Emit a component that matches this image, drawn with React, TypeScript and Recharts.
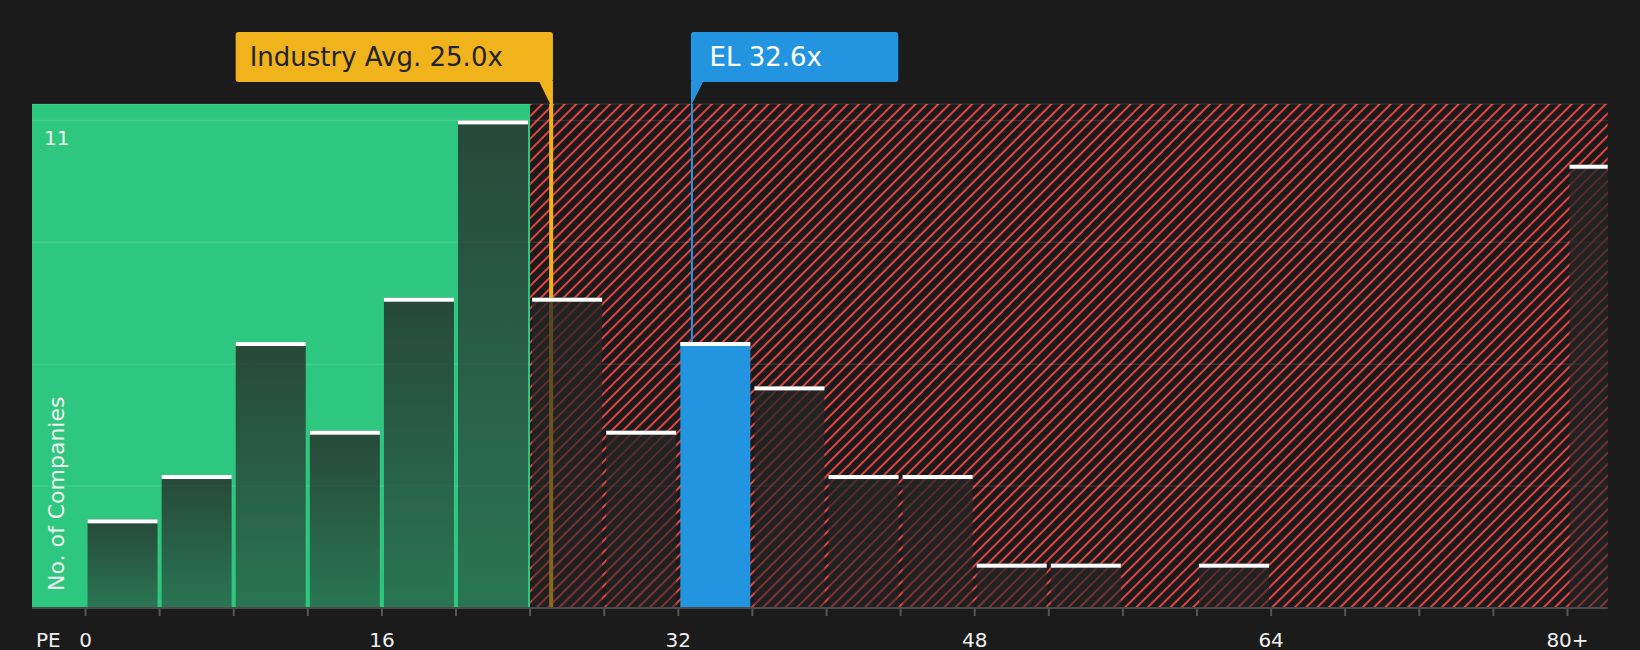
import React from "react";
import {
  ComposedChart,
  Bar,
  XAxis,
  YAxis,
  CartesianGrid,
  ReferenceArea,
  ReferenceLine,
} from "recharts";

// ---- data ----
const binStarts = [0, 4, 8, 12, 16, 20, 24, 28, 32, 36, 40, 44, 48, 52, 56, 60, 64, 68, 72, 76, 80];
const binCounts = [2, 3, 6, 4, 7, 11, 7, 4, 6, 5, 3, 3, 1, 1, 0, 1, 0, 0, 0, 0, 10];
const binWidth = 4;
const industryAvg = 25.0;
const companyPE = 32.6;
const companyName = "EL";
const fairBoundary = 24;
const xTickValues = [0, 4, 8, 12, 16, 20, 24, 28, 32, 36, 40, 44, 48, 52, 56, 60, 64, 68, 72, 76, 80];
const xLabelValues = [0, 16, 32, 48, 64, 80];
const xLabelTexts = ["0", "16", "32", "48", "64", "80+"];
const yTickValues = [2.75, 5.5, 8.25, 11];
const yLabelValues = [11];
const xDomain: [number, number] = [-2.89, 82.17];
const yDomain: [number, number] = [0, 11.37];

const tableData = binStarts.map((s, i) => ({
  x: s + binWidth / 2,
  start: s,
  count: binCounts[i],
}));

const FONT = "'DejaVu Sans', sans-serif";
const BG = "#1b1b1b";
const GREEN = "#2ec77f";
const RED = "#e34242";
const YELLOW = "#f0b31b";
const BLUE = "#2394df";
const LINE_SHIFT = 2.5;

const BarShape = (props: any) => {
  const { x, y, width, height, payload } = props;
  if (!payload || payload.count <= 0 || height <= 0) return <g />;
  const isCompany = companyPE >= payload.start && companyPE < payload.start + binWidth;
  return (
    <g>
      <rect x={x} y={y} width={width} height={height} fill={isCompany ? BLUE : "url(#barShade)"} />
      <rect x={x} y={y} width={width} height={4} fill="#ffffff" />
    </g>
  );
};

const XTick = (props: any) => {
  const { x, y, payload } = props;
  const idx = xLabelValues.indexOf(payload.value);
  return (
    <g>
      {idx >= 0 && (
        <text x={x} y={y + 31} textAnchor="middle" fill="#f0f0f0" fontSize={20} fontFamily={FONT}>
          {xLabelTexts[idx]}
        </text>
      )}
      {payload.value === 0 && (
        <text x={x - 49.5} y={y + 31} textAnchor="start" fill="#f0f0f0" fontSize={20} fontFamily={FONT}>
          PE
        </text>
      )}
    </g>
  );
};

const YTick = (props: any) => {
  const { x, y, payload } = props;
  if (yLabelValues.indexOf(payload.value) < 0) return <g />;
  return (
    <text x={x} y={y + 24.5} textAnchor="start" fill="#f0f0f0" fontSize={20} fontFamily={FONT}>
      {String(payload.value)}
    </text>
  );
};

const YLabel = (props: any) => {
  const vb = props.viewBox || {};
  const bx = vb.x + vb.width + 30.5;
  const by = vb.y + vb.height - 17;
  return (
    <text
      x={bx}
      y={by}
      transform={`rotate(-90, ${bx}, ${by})`}
      textAnchor="start"
      fill="#f0f0f0"
      fontSize={22}
      fontFamily={FONT}
    >
      No. of Companies
    </text>
  );
};

const ShiftedLine = (props: any) => {
  const { x1, y1, x2, y2, stroke, strokeWidth } = props;
  return <line x1={x1 + LINE_SHIFT} y1={y1} x2={x2 + LINE_SHIFT} y2={y2} stroke={stroke} strokeWidth={strokeWidth} />;
};

const IndustryCallout = (props: any) => {
  const vb = props.viewBox || {};
  const lx = vb.x + LINE_SHIFT;
  const top = vb.y;
  const right = lx + 1.8;
  const w = 317.3;
  const left = right - w;
  return (
    <g>
      <rect x={left} y={top - 72} width={w} height={50} rx={3} fill={YELLOW} />
      <polygon points={`${right - 14},${top - 23} ${right},${top - 23} ${right},${top} ${lx - 1},${top}`} fill={YELLOW} />
      <text x={left + 14} y={top - 38.5} fill="#1f2430" fontSize={26} fontFamily={FONT}>
        {`Industry Avg. ${industryAvg.toFixed(1)}x`}
      </text>
    </g>
  );
};

const CompanyCallout = (props: any) => {
  const vb = props.viewBox || {};
  const lx = vb.x + LINE_SHIFT;
  const top = vb.y;
  const left = lx - 1;
  const w = 207.3;
  return (
    <g>
      <rect x={left} y={top - 72} width={w} height={50} rx={3} fill={BLUE} />
      <polygon points={`${left},${top - 23} ${left + 12.5},${top - 23} ${lx},${top} ${left},${top}`} fill={BLUE} />
      <text x={left + 18.6} y={top - 38.5} fill="#ffffff" fontSize={26} fontFamily={FONT}>
        {`${companyName} ${companyPE.toFixed(1)}x`}
      </text>
    </g>
  );
};

export default function App() {
  return (
    <div style={{ position: "absolute", left: 0, top: 0, width: 1640, height: 650, background: BG }}>
      <ComposedChart
        width={1640}
        height={650}
        data={tableData}
        margin={{ top: 104, right: 32.3, bottom: 0, left: 32 }}
      >
        <defs>
          <pattern id="hatch" width="8" height="8" patternUnits="userSpaceOnUse" patternTransform="rotate(45)">
            <rect x="0" y="0" width="8" height="8" fill={BG} />
            <rect x="0" y="0" width="2.2" height="8" fill={RED} shapeRendering="crispEdges" />
          </pattern>
          <linearGradient id="barShade" x1="0" y1="0" x2="0" y2="1">
            <stop offset="0%" stopColor="#252525" stopOpacity={0.78} />
            <stop offset="100%" stopColor="#252525" stopOpacity={0.5} />
          </linearGradient>
        </defs>
        <ReferenceArea x2={fairBoundary} fill={GREEN} fillOpacity={1} stroke="none" zIndex={-200} ifOverflow="visible" />
        <ReferenceArea x1={fairBoundary} fill="url(#hatch)" fillOpacity={1} stroke="none" zIndex={-200} ifOverflow="visible" />
        <CartesianGrid vertical={false} stroke="rgba(255,255,255,0.1)" strokeWidth={1.5} zIndex={-150} />
        <XAxis
          type="number"
          dataKey="x"
          domain={xDomain}
          allowDataOverflow
          ticks={xTickValues}
          interval={0}
          height={42}
          tickSize={8}
          tickMargin={0}
          axisLine={{ stroke: "#4a4a4a", strokeWidth: 2 }}
          tickLine={{ stroke: "#555555", strokeWidth: 2 }}
          tick={<XTick />}
        />
        <YAxis
          type="number"
          width={1}
          domain={yDomain}
          allowDataOverflow
          ticks={yTickValues}
          interval={0}
          mirror
          axisLine={false}
          tickLine={false}
          tickSize={0}
          tickMargin={12}
          tick={<YTick />}
          label={<YLabel />}
        />
        <ReferenceLine
          x={industryAvg}
          stroke={YELLOW}
          strokeWidth={4}
          zIndex={250}
          shape={(p: any) => <ShiftedLine {...p} />}
          label={(p: any) => <IndustryCallout {...p} />}
        />
        <Bar dataKey="count" barSize={70} isAnimationActive={false} shape={(p: any) => <BarShape {...p} />} zIndex={300} />
        <ReferenceLine
          segment={[
            { x: companyPE, y: 6 },
            { x: companyPE, y: yDomain[1] },
          ]}
          stroke={BLUE}
          strokeWidth={2}
          zIndex={400}
          ifOverflow="visible"
          shape={(p: any) => <ShiftedLine {...p} />}
          label={(p: any) => <CompanyCallout {...p} />}
        />
      </ComposedChart>
    </div>
  );
}
